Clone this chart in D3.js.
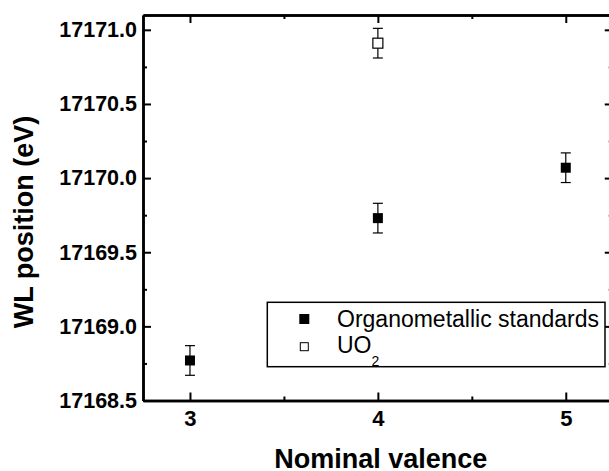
<!DOCTYPE html>
<html>
<head>
<meta charset="utf-8">
<script src="https://cdn.jsdelivr.net/npm/d3@7"></script>
<style>
  body { margin: 0; background: #fff; }
  svg { display: block; font-family: "Liberation Sans", Arial, sans-serif; }
  .axis text { font-weight: bold; font-size: 22px; fill: #000; }
  .axis path, .axis line { stroke: #000; }
</style>
</head>
<body>
<div class="chart"></div>
<script>
// data
const organoValence = [3, 4, 5];
const organoWL = [17168.77, 17169.73, 17170.07];
const organoErr = [0.1, 0.1, 0.1];

const uo2Valence = [4];
const uo2WL = [17170.91];
const uo2Err = [0.1];

const xTicks = [3, 4, 5];
const xMinor = [3.5, 4.5];
const yTicks = [17168.5, 17169.0, 17169.5, 17170.0, 17170.5, 17171.0];
const yMinor = [17168.75, 17169.25, 17169.75, 17170.25, 17170.75];

const svgWidth = 609;
const svgHeight = 471;
const margin = { left: 143, top: 15 };
const plotRight = 612.75;
const plotBottom = 400.5;

const svg = d3.select('.chart')
  .append('svg')
  .attr('width', svgWidth)
  .attr('height', svgHeight);

const x = d3.scaleLinear()
  .domain([2.75, 5.25])
  .range([margin.left, plotRight]);

const y = d3.scaleLinear()
  .domain([17168.5, 17171.1])
  .range([plotBottom, margin.top]);

// axes, ticks pointing inward
function frameAxis(axis, transform, values, size, labels) {
  const g = svg.append('g')
    .attr('class', 'axis')
    .attr('transform', transform)
    .call(axis.tickValues(values).tickSize(-size).tickSizeOuter(0));
  g.selectAll('line').attr('stroke-width', 2);
  g.select('.domain').attr('stroke-width', 2.5);
  if (!labels) g.selectAll('text').remove();
  return g;
}

// minor ticks first
frameAxis(d3.axisBottom(x), `translate(0,${plotBottom})`, xMinor, 4, false);
frameAxis(d3.axisTop(x), `translate(0,${margin.top})`, xMinor, 4, false);
frameAxis(d3.axisLeft(y), `translate(${margin.left},0)`, yMinor, 4, false);
frameAxis(d3.axisRight(y), `translate(${plotRight},0)`, yMinor, 4, false);

frameAxis(d3.axisBottom(x).tickPadding(9.5).tickFormat(d3.format('d')),
  `translate(0,${plotBottom})`, xTicks, 8, true);
frameAxis(d3.axisTop(x), `translate(0,${margin.top})`, xTicks, 8, false);
frameAxis(d3.axisLeft(y).tickPadding(6).tickFormat(d3.format('.1f')),
  `translate(${margin.left},0)`, yTicks, 8, true)
  .selectAll('text').style('font-size', '21.5px');
frameAxis(d3.axisRight(y), `translate(${plotRight},0)`, yTicks, 8, false);

// axis titles
svg.append('text')
  .attr('x', 380.7)
  .attr('y', 467.5)
  .attr('text-anchor', 'middle')
  .attr('font-weight', 'bold')
  .attr('font-size', 27)
  .text('Nominal valence');

svg.append('text')
  .attr('transform', 'translate(33,222) rotate(-90)')
  .attr('text-anchor', 'middle')
  .attr('font-weight', 'bold')
  .attr('font-size', 27)
  .text('WL position (eV)');

// error bars + markers
function drawSeries(xs, ys, errs, filled) {
  const data = xs.map((v, i) => ({ x: v, y: ys[i], e: errs[i] }));
  const g = svg.append('g');
  const cap = 5;

  const bars = g.selectAll('g.err')
    .data(data)
    .join('g')
    .attr('class', 'err')
    .attr('stroke', '#000')
    .attr('stroke-width', 1.2);

  bars.append('line')
    .attr('x1', d => x(d.x)).attr('x2', d => x(d.x))
    .attr('y1', d => y(d.y - d.e)).attr('y2', d => y(d.y + d.e));
  bars.append('line')
    .attr('x1', d => x(d.x) - cap).attr('x2', d => x(d.x) + cap)
    .attr('y1', d => y(d.y + d.e)).attr('y2', d => y(d.y + d.e));
  bars.append('line')
    .attr('x1', d => x(d.x) - cap).attr('x2', d => x(d.x) + cap)
    .attr('y1', d => y(d.y - d.e)).attr('y2', d => y(d.y - d.e));

  const s = 10;
  g.selectAll('rect')
    .data(data)
    .join('rect')
    .attr('x', d => x(d.x) - s / 2)
    .attr('y', d => y(d.y) - s / 2)
    .attr('width', s)
    .attr('height', s)
    .attr('fill', filled ? '#000' : '#fff')
    .attr('stroke', '#000')
    .attr('stroke-width', filled ? 0 : 1.2);
}

drawSeries(organoValence, organoWL, organoErr, true);
drawSeries(uo2Valence, uo2WL, uo2Err, false);

// legend
const legend = svg.append('g');
legend.append('rect')
  .attr('x', 267.3)
  .attr('y', 302.3)
  .attr('width', 337.7)
  .attr('height', 64.4)
  .attr('fill', '#fff')
  .attr('stroke', '#000')
  .attr('stroke-width', 1.5);

legend.append('rect')
  .attr('x', 299.3).attr('y', 314)
  .attr('width', 10).attr('height', 10)
  .attr('fill', '#000');
legend.append('rect')
  .attr('x', 300.3).attr('y', 342.7)
  .attr('width', 8).attr('height', 8)
  .attr('fill', '#fff')
  .attr('stroke', '#000')
  .attr('stroke-width', 1);

legend.append('text')
  .attr('x', 337)
  .attr('y', 327.3)
  .attr('font-size', 23)
  .text('Organometallic standards');

const uoText = legend.append('text')
  .attr('x', 337)
  .attr('y', 353.3)
  .attr('font-size', 23);
uoText.append('tspan').text('UO');
uoText.append('tspan')
  .attr('font-size', 14)
  .attr('dy', 13)
  .text('2');
</script>
</body>
</html>
